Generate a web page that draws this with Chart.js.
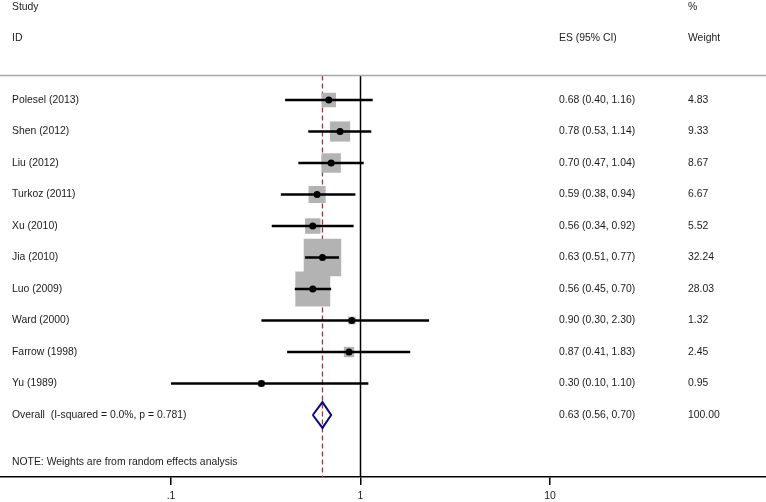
<!DOCTYPE html>
<html>
<head>
<meta charset="utf-8">
<script src="https://cdn.jsdelivr.net/npm/chart.js@4/dist/chart.umd.min.js"></script>
<style>
html,body{margin:0;padding:0;background:#fff;}
#wrap{width:766px;height:502px;position:relative;}
</style>
</head>
<body>
<div id="wrap"><canvas id="c"></canvas></div>
<script>
// ---- data ----
const studies = ['Polesel (2013)','Shen (2012)','Liu (2012)','Turkoz (2011)','Xu (2010)','Jia (2010)','Luo (2009)','Ward (2000)','Farrow (1998)','Yu (1989)'];
const es      = [0.68,0.78,0.70,0.59,0.56,0.63,0.56,0.90,0.87,0.30];
const ciLow   = [0.40,0.53,0.47,0.38,0.34,0.51,0.45,0.30,0.41,0.10];
const ciHigh  = [1.16,1.14,1.04,0.94,0.92,0.77,0.70,2.30,1.83,1.10];
const weights = [4.83,9.33,8.67,6.67,5.52,32.24,28.03,1.32,2.45,0.95];
const overallLabel = 'Overall  (I-squared = 0.0%, p = 0.781)';
const overallES = 0.63, overallLow = 0.56, overallHigh = 0.70, overallWeight = 100.00;
const noteText = 'NOTE: Weights are from random effects analysis';
const xTicks = [0.1, 1, 10];
const xTickLabels = ['.1', '1', '10'];

// ---- layout helpers (rows) ----
const rowOf = i => i + 1;           // study rows 1..10
const overallRow = studies.length + 1;
const headRow1 = -1.95, headRow2 = -0.97, topLineRow = 0.22, noteRow = 12.5;
const yMin = -2.175, yMax = 12.968;
const FONT = '10.4px "Liberation Sans", Arial, sans-serif';
const TXT = '#1a1a1a';

const datasets = [];
// markers (top)
datasets.push({
  type:'scatter', order:0, clip:false,
  data: es.map((v,i)=>({x:v,y:rowOf(i)})),
  pointStyle:'circle', pointRadius:3.5, backgroundColor:'#000', borderColor:'#000', borderWidth:0
});
// CI lines
es.forEach((v,i)=>{
  datasets.push({
    type:'line', order:1, clip:false,
    data:[{x:ciLow[i],y:rowOf(i)},{x:ciHigh[i],y:rowOf(i)}],
    borderColor:'#000', borderWidth:2.4, pointRadius:0, fill:false
  });
});
// boxes (weights)
datasets.push({
  type:'scatter', order:2, clip:false,
  data: es.map((v,i)=>({x:v,y:rowOf(i)})),
  pointStyle:'rect',
  pointRadius: weights.map(w => 6.6*Math.sqrt(w)/Math.SQRT2),
  backgroundColor:'#b3b3b3', borderWidth:0
});
// overall diamond
const dh = 0.41;
datasets.push({
  type:'line', order:1, clip:false,
  data:[{x:overallLow,y:overallRow},{x:overallES,y:overallRow-dh},{x:overallHigh,y:overallRow},{x:overallES,y:overallRow+dh},{x:overallLow,y:overallRow}],
  borderColor:'#0a0a80', borderWidth:2, pointRadius:0, fill:false, tension:0
});
// null line at 1
datasets.push({
  type:'line', order:3,
  data:[{x:1,y:topLineRow},{x:1,y:yMax}],
  borderColor:'#000', borderWidth:1.5, pointRadius:0
});
// dashed overall line
datasets.push({
  type:'line', order:3,
  data:[{x:overallES,y:topLineRow},{x:overallES,y:yMax}],
  borderColor:'#a33238', borderWidth:1.3, borderDash:[5,3], pointRadius:0
});

const textPlugin = {
  id:'forestText',
  afterDatasetsDraw(chart){
    const ctx = chart.ctx, y = chart.scales.y, ca = chart.chartArea;
    const xLabel = ca.left + 12, xES = ca.left + 559, xW = ca.left + 688;
    ctx.save();
    // top separator
    ctx.strokeStyle = '#a8a8a8'; ctx.lineWidth = 1.5;
    ctx.beginPath();
    const ty = y.getPixelForValue(topLineRow);
    ctx.moveTo(ca.left, ty); ctx.lineTo(ca.right, ty); ctx.stroke();
    ctx.font = FONT; ctx.fillStyle = TXT; ctx.textBaseline = 'middle'; ctx.textAlign = 'left';
    ctx.fillText('Study', xLabel, y.getPixelForValue(headRow1));
    ctx.fillText('ID', xLabel, y.getPixelForValue(headRow2));
    ctx.fillText('ES (95% CI)', xES, y.getPixelForValue(headRow2));
    ctx.fillText('%', xW, y.getPixelForValue(headRow1));
    ctx.fillText('Weight', xW, y.getPixelForValue(headRow2));
    studies.forEach((s,i)=>{
      const py = y.getPixelForValue(rowOf(i));
      ctx.fillText(s, xLabel, py);
      ctx.fillText(es[i].toFixed(2)+' ('+ciLow[i].toFixed(2)+', '+ciHigh[i].toFixed(2)+')', xES, py);
      ctx.fillText(weights[i].toFixed(2), xW, py);
    });
    const oy = y.getPixelForValue(overallRow);
    ctx.fillText(overallLabel, xLabel, oy);
    ctx.fillText(overallES.toFixed(2)+' ('+overallLow.toFixed(2)+', '+overallHigh.toFixed(2)+')', xES, oy);
    ctx.fillText(overallWeight.toFixed(2), xW, oy);
    ctx.fillText(noteText, xLabel, y.getPixelForValue(noteRow));
    ctx.restore();
  }
};

new Chart(document.getElementById('c'), {
  data:{datasets},
  options:{
    responsive:true, maintainAspectRatio:false, animation:false,
    layout:{padding:0, autoPadding:false},
    plugins:{legend:{display:false}, tooltip:{enabled:false}},
    elements:{line:{tension:0}},
    scales:{
      x:{
        type:'logarithmic', position:'bottom',
        min:0.01252, max:138,
        afterBuildTicks: s => { s.ticks = xTicks.map(v=>({value:v})); },
        afterFit: s => { s.height = 25; },
        ticks:{
          autoSkip:false, maxRotation:0, padding:5,
          color:TXT, font:{family:'"Liberation Sans", Arial, sans-serif', size:10.4},
          callback: (v) => { const k = xTicks.indexOf(v); return k>=0 ? xTickLabels[k] : ''; }
        },
        grid:{drawOnChartArea:false, drawTicks:true, tickLength:8, color:'#000', lineWidth:1.5},
        border:{display:true, color:'#000', width:1.5}
      },
      y:{
        type:'linear', display:false, reverse:true, min:yMin, max:yMax
      }
    }
  },
  plugins:[textPlugin]
});
</script>
</body>
</html>
